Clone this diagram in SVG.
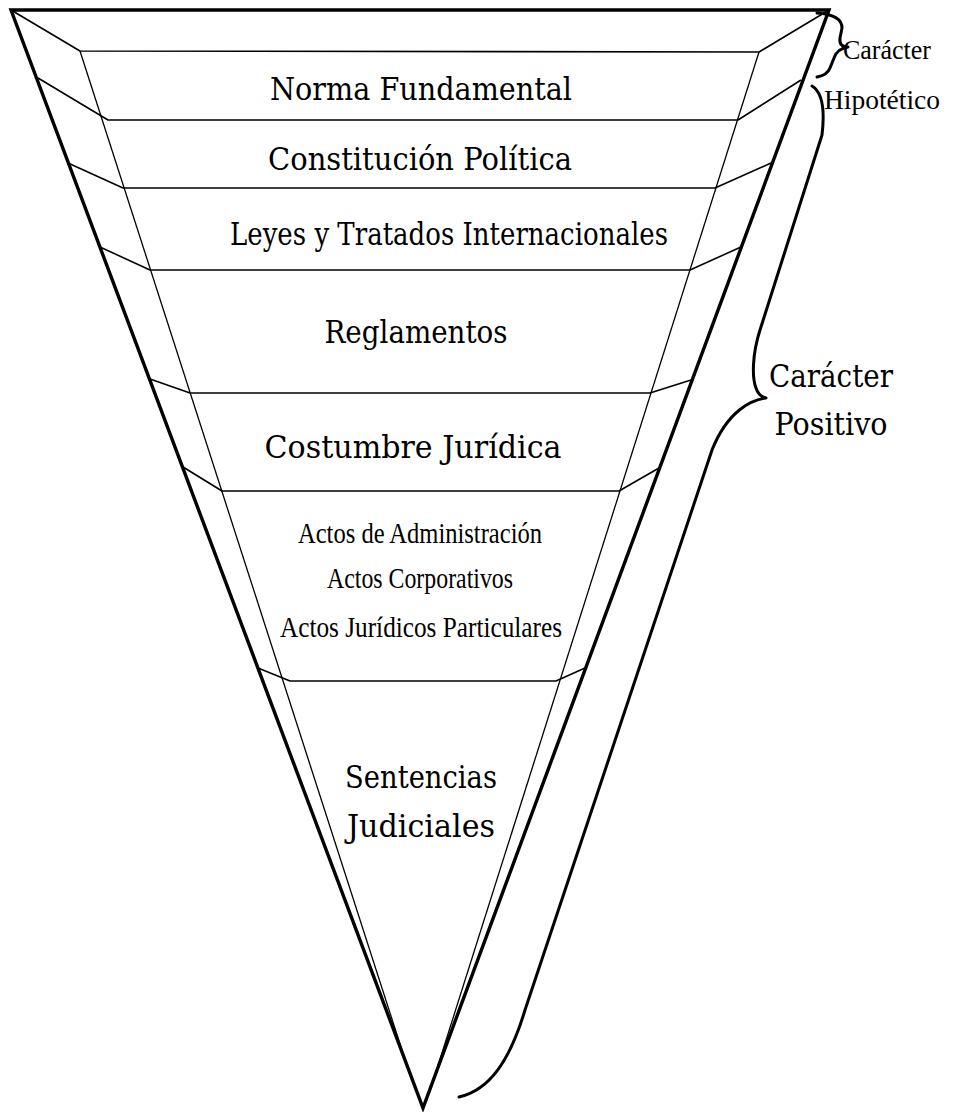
<svg xmlns="http://www.w3.org/2000/svg" width="960" height="1112" viewBox="0 0 960 1112">
<style>
.outer{fill:none;stroke:#000;stroke-width:3.4;stroke-linejoin:miter}
.inner{fill:none;stroke:#000;stroke-width:1.3}
.sep{fill:none;stroke:#000;stroke-width:1.6;stroke-linejoin:round}
.brace{fill:none;stroke:#000;stroke-width:3;stroke-linecap:round;stroke-linejoin:round}
.t{font-family:"DejaVu Serif","Liberation Serif",serif;font-size:31px;fill:#000;text-anchor:middle}
.c{font-family:"Liberation Serif","DejaVu Serif",serif;font-size:29px;fill:#000;text-anchor:middle}
</style>
<rect width="960" height="1112" fill="#fff"/>
<g id="frame">
<polygon class="outer" points="11,10 829,10 423,1108"/>
<line class="inner" x1="80" y1="51" x2="410" y2="1075"/>
<line class="inner" x1="759" y1="52" x2="435" y2="1075"/>
</g>
<g id="norma-fundamental">
<polyline class="sep" points="11,10 80,51 759,52 829,10"/>
<text class="t" x="421" y="100" textLength="302" lengthAdjust="spacingAndGlyphs">Norma Fundamental</text>
</g>
<g id="constitucion-politica">
<polyline class="sep" points="38,78 108,120 738,120 801,80"/>
<text class="t" x="420" y="170" textLength="304" lengthAdjust="spacingAndGlyphs">Constitución Política</text>
</g>
<g id="leyes-tratados">
<polyline class="sep" points="68,163 123,188 715,188 771,163"/>
<text class="t" x="449" y="245" textLength="438" lengthAdjust="spacingAndGlyphs">Leyes y Tratados Internacionales</text>
</g>
<g id="reglamentos">
<polyline class="sep" points="100,247 150,270 690,270 741,247"/>
<text class="t" x="416" y="343" textLength="183" lengthAdjust="spacingAndGlyphs">Reglamentos</text>
</g>
<g id="costumbre-juridica">
<polyline class="sep" points="150,379 190,393 650,393 691,380"/>
<text class="t" x="413" y="458" textLength="297" lengthAdjust="spacingAndGlyphs">Costumbre Jurídica</text>
</g>
<g id="actos">
<polyline class="sep" points="183,467 222,491 619,491 659,468"/>
<text class="c" x="420" y="543" textLength="244" lengthAdjust="spacingAndGlyphs">Actos de Administración</text>
<text class="c" x="420" y="588" textLength="186" lengthAdjust="spacingAndGlyphs">Actos Corporativos</text>
<text class="c" x="421" y="637" textLength="282" lengthAdjust="spacingAndGlyphs">Actos Jurídicos Particulares</text>
</g>
<g id="sentencias-judiciales">
<polyline class="sep" points="258,668 290,681 556,681 585,668"/>
<text class="t" x="421" y="788" textLength="152" lengthAdjust="spacingAndGlyphs">Sentencias</text>
<text class="t" x="421" y="837" textLength="148" lengthAdjust="spacingAndGlyphs">Judiciales</text>
</g>
<g id="connectors">
<path class="brace" stroke-width="2.6" d="M817,13 C832,14 842,18 842,28 L840,38 C839,44 842,47 848,47 C841,48 836,52 834,58 L830,68 C828,73 823,76 817,77"/>
<path class="brace" d="M812,86 C822,92 825,110 822,135 L760,330 C752,355 752,378 756,388 C758,394 761,397 766,398 C752,400 728,410 712,450 L525,1010 C510,1060 490,1090 459,1097"/>
</g>
<g id="caracter-hipotetico">
<text class="c" x="887" y="59" style="font-size:27px" textLength="88" lengthAdjust="spacingAndGlyphs">Carácter</text>
<text class="c" x="882" y="109" style="font-size:27px" textLength="116" lengthAdjust="spacingAndGlyphs">Hipotético</text>
</g>
<g id="caracter-positivo">
<text class="t" x="831" y="387" textLength="124" lengthAdjust="spacingAndGlyphs">Carácter</text>
<text class="t" x="831" y="435" textLength="113" lengthAdjust="spacingAndGlyphs">Positivo</text>
</g>
</svg>
